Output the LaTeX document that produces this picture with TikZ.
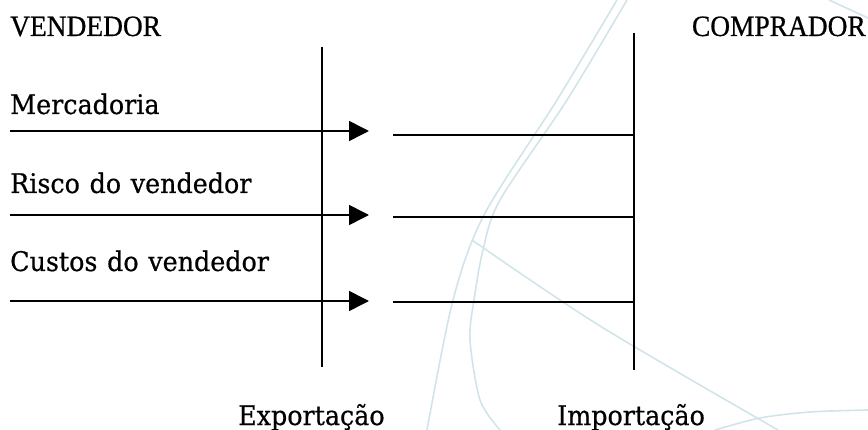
\documentclass[tikz,border=0pt]{standalone}
\usepackage{fontspec}
\usetikzlibrary{arrows.meta}
\newfontfamily\labfont[FakeStretch=0.94,WordSpace=1.2,FakeBold=0.6]{DejaVu Serif}
\newfontfamily\headfont[FakeStretch=0.93,FakeBold=0.6]{Liberation Serif}
\definecolor{wmblue}{RGB}{210,228,234}
\tikzset{
  lbl/.style={anchor=base west,inner sep=0pt,font=\labfont\fontsize{27pt}{32pt}\selectfont},
  head/.style={anchor=base west,inner sep=0pt,font=\headfont\fontsize{29.5pt}{34pt}\selectfont},
  wm/.style={draw=wmblue,line width=1.6pt},
  bar/.style={draw=black,line width=1.6pt},
  flow/.style={draw=black,line width=1.6pt,-{Triangle[length=20pt,width=20pt]}},
}
\begin{document}
\begin{tikzpicture}[x=1pt,y=-1pt]
\useasboundingbox (0,0) rectangle (868,430);
% watermark curves
\draw[wm] plot[smooth] coordinates {(617,0) (557,100) (484,215) (453,300) (427,430)};
\draw[wm] plot[smooth] coordinates {(627,0) (567,100) (500,200) (483,250) (474,300) (470,340) (480,400) (500,430)};
\draw[wm] plot[smooth] coordinates {(472,240) (600,326) (778,430)};
\draw[wm] plot[smooth] coordinates {(715,430) (760,418) (810,412) (868,410)};
\draw[wm] (829,0) -- (868,18);
% texts
\node[head] (vend) at (10,36) {VENDEDOR};
\node[head,anchor=base east] (comp) at (866,36) {COMPRADOR};
\node[lbl] (merc) at (10,114) {Mercadoria};
\node[lbl] (risco) at (10,193) {Risco do vendedor};
\node[lbl] (custos) at (10,271) {Custos do vendedor};
\node[lbl] (exp) at (238,425) {Exportação};
\node[lbl] (imp) at (557,425) {Importação};
% vertical bars
\coordinate (v1t) at (322,47);
\coordinate (v1b) at (322,367);
\coordinate (v2t) at (634,33);
\coordinate (v2b) at (634,370);
\draw[bar] (v1t) -- (v1b);
\draw[bar] (v2t) -- (v2b);
% arrows
\coordinate (a1s) at (10,131);
\coordinate (a1e) at (369,131);
\coordinate (a2s) at (10,215);
\coordinate (a2e) at (369,215);
\coordinate (a3s) at (10,301);
\coordinate (a3e) at (369,301);
\draw[flow] (a1s) -- (a1e);
\draw[flow] (a2s) -- (a2e);
\draw[flow] (a3s) -- (a3e);
% right segments
\coordinate (r1s) at (393,135);
\coordinate (r1e) at (634,135);
\coordinate (r2s) at (393,217);
\coordinate (r2e) at (634,217);
\coordinate (r3s) at (393,302);
\coordinate (r3e) at (634,302);
\draw[bar] (r1s) -- (r1e);
\draw[bar] (r2s) -- (r2e);
\draw[bar] (r3s) -- (r3e);
\end{tikzpicture}
\end{document}
